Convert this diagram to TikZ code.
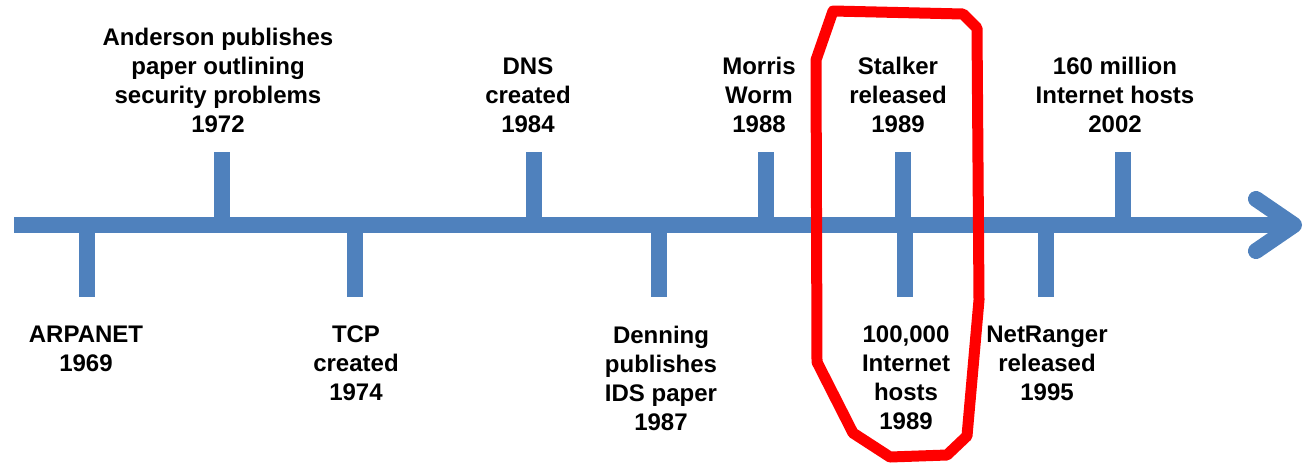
\documentclass[tikz,border=0pt]{standalone}
\usepackage{fontspec}
\setmainfont{Liberation Sans}
\usepackage{xcolor}
\definecolor{cAxis}{HTML}{4F81BD}
\definecolor{cMark}{HTML}{FF0000}
\usepackage{tikz}
\usetikzlibrary{positioning}

\begin{document}
\begin{tikzpicture}[x=1pt, y=-1pt,
    evtext/.style={align=center, inner sep=0pt,
                   font=\fontsize{24}{29}\selectfont\bfseries},
    axisline/.style={line width=16pt, color=cAxis},
    tickbar/.style={line width=16pt, color=cAxis},
    marker/.style={line width=11pt, color=cMark, line join=round, line cap=round}
]
\useasboundingbox (0,0) rectangle (1304,472);

% time axis with open arrow head
\coordinate (start) at (14,225);
\coordinate (tip) at (1294,225);
\draw[axisline] (start) -- (tip);
\draw[axisline, line cap=round, line join=round] (1256,199) -- (tip) -- (1256,251);

% ticks above the axis
\coordinate (t72) at (222,225);
\coordinate (t84) at (534,225);
\coordinate (t88) at (766,225);
\coordinate (t89a) at (903,225);
\coordinate (t02) at (1123,225);
\draw[tickbar] (t72) -- ++(0,-73);
\draw[tickbar] (t84) -- ++(0,-73);
\draw[tickbar] (t88) -- ++(0,-73);
\draw[tickbar] (t89a) -- ++(0,-73);
\draw[tickbar] (t02) -- ++(0,-73);

% ticks below the axis
\coordinate (t69) at (87,225);
\coordinate (t74) at (355,225);
\coordinate (t87) at (659,225);
\coordinate (t89b) at (905,225);
\coordinate (t95) at (1046,225);
\draw[tickbar] (t69) -- ++(0,72);
\draw[tickbar] (t74) -- ++(0,72);
\draw[tickbar] (t87) -- ++(0,72);
\draw[tickbar] (t89b) -- ++(0,72);
\draw[tickbar] (t95) -- ++(0,72);

% labels above
\node[evtext, anchor=south] (anderson) at (218,133) {Anderson publishes\\paper outlining\\security problems\\1972};
\node[evtext, anchor=south] (dns) at (528,133) {DNS\\created\\1984};
\node[evtext, anchor=south] (morris) at (759,133) {Morris\\Worm\\1988};
\node[evtext, anchor=south] (stalker) at (898,133) {Stalker\\released\\1989};
\node[evtext, anchor=south] (hosts02) at (1115,133) {160 million\\Internet hosts\\2002};

% labels below
\node[evtext, anchor=north] (arpanet) at (86,326) {ARPANET\\1969};
\node[evtext, anchor=north] (tcp) at (356,326) {TCP\\created\\1974};
\node[evtext, anchor=north] (denning) at (661,326) {Denning\\publishes\\IDS paper\\1987};
\node[evtext, anchor=north] (hosts89) at (906,326) {100,000\\Internet\\hosts\\1989};
\node[evtext, anchor=north] (netranger) at (1047,326) {NetRanger\\released\\1995};

% hand drawn ring round 1989
\draw[marker] (833,11) -- (963,14) -- (977,28) -- (979,300) -- (967,436)
  -- (947,455) -- (890,457) -- (853,433) -- (817,362) -- (816,60) -- cycle;
\end{tikzpicture}
\end{document}
